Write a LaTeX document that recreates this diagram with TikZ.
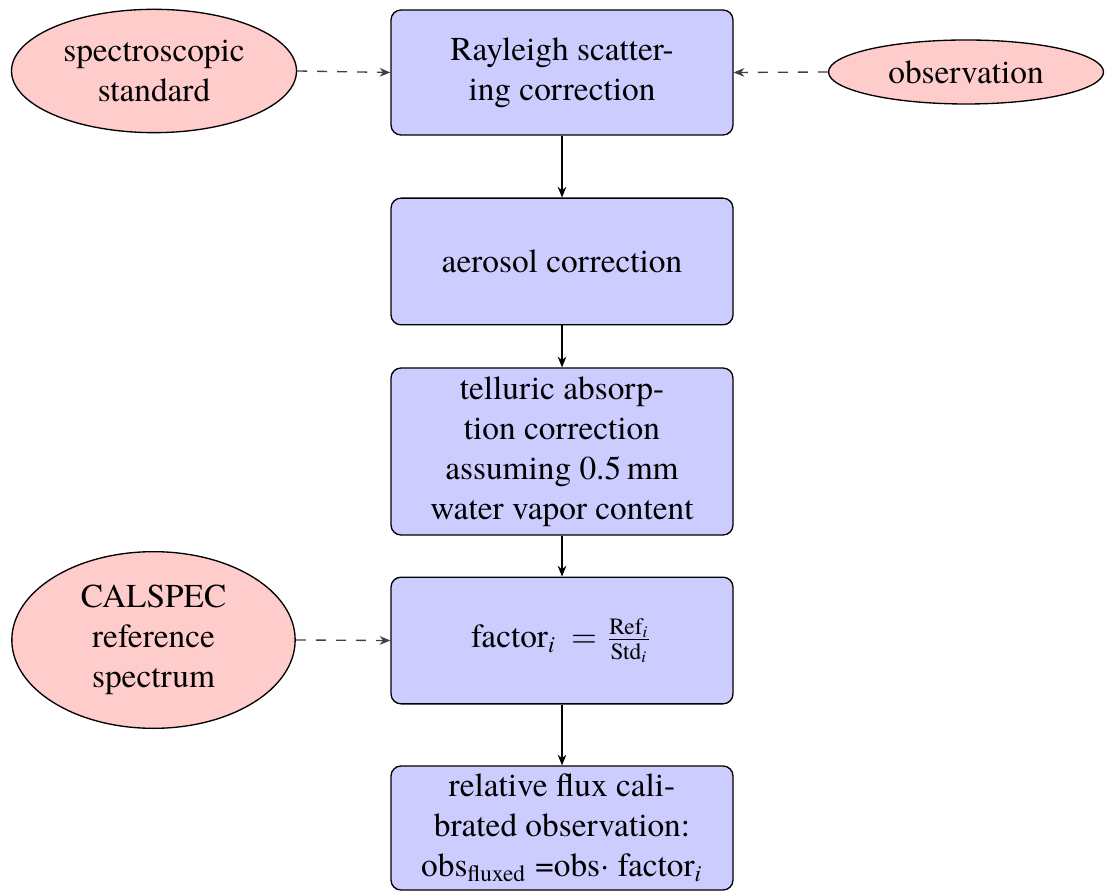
\documentclass[tikz,border=0pt]{standalone}
\usepackage{amsmath}
\usepackage{fontspec}
\setmainfont{TeX Gyre Termes}
\usetikzlibrary{shapes.geometric,arrows.meta}
\begin{document}
\begin{tikzpicture}[x=0.3pt,y=-0.3pt,
  procbox/.style={rectangle, rounded corners=3pt, draw=black, fill=blue!20,
    minimum width=102.6pt, align=center, inner sep=0pt, line width=0.4pt},
  srcell/.style={ellipse, draw=black, fill=red!20, align=center, inner sep=0pt, line width=0.4pt},
  flow/.style={draw=black, line width=0.4pt, -{Stealth[length=3.2pt,width=2.6pt]}},
  dflow/.style={draw=black!75, line width=0.4pt, dashed, -{Stealth[length=3.2pt,width=2.6pt]}}]
\useasboundingbox (0,0) rectangle (1105,891);
\node[procbox, minimum height=37.5pt] (ray) at (562,72.5) {Rayleigh scatter-\\ing correction};
\node[procbox, minimum height=38pt] (aer) at (562,261.5) {aerosol correction};
\node[procbox, minimum height=50.1pt] (tel) at (562,451.5) {telluric absorp-\\tion correction\\assuming 0.5\,mm\\water vapor content};
\node[procbox, minimum height=38pt] (fac) at (562,640.5) {factor\textsubscript{\textit{i}}\hspace{2pt} $=$ $\frac{\text{Ref}_{\text{\itshape i}}}{\text{Std}_{\text{\itshape i}}}$};
\node[procbox, minimum height=37.2pt] (rel) at (562,828) {relative flux cali-\\brated observation:\\obs\textsubscript{fluxed} =obs$\cdot$ factor\textsubscript{\textit{i}}};
\node[srcell, minimum width=85.5pt, minimum height=37pt] (spec) at (154,71) {spectroscopic\\standard};
\node[srcell, minimum width=82.5pt, minimum height=19.2pt] (obs) at (966,72) {observation};
\node[srcell, minimum width=85pt, minimum height=53pt] (cal) at (153.5,640) {CALSPEC\\reference\\spectrum};
\draw[flow] (ray) -- (aer);
\draw[flow] (aer) -- (tel);
\draw[flow] (tel) -- (fac);
\draw[flow] (fac) -- (rel);
\draw[dflow] (spec.east) -- (ray.west);
\draw[dflow] (obs.west) -- (ray.east);
\draw[dflow] (cal.east) -- (fac.west);
\end{tikzpicture}
\end{document}
